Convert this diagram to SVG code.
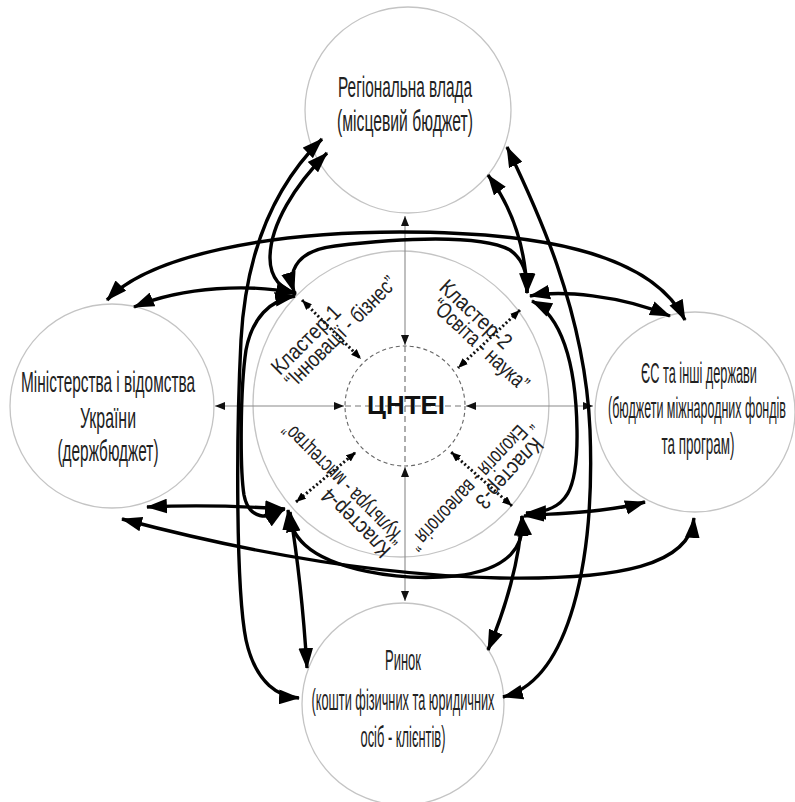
<svg xmlns="http://www.w3.org/2000/svg" width="795" height="802" viewBox="0 0 795 802">
<defs>
<style>
.circ{fill:#fff;stroke:#c4c4c4;stroke-width:1.3}
.lbl{font-family:"Liberation Sans","Noto Sans",Arial,sans-serif;font-size:30px;fill:#222;text-anchor:middle}
.cl{font-family:"Liberation Sans","Noto Sans",Arial,sans-serif;font-size:22px;fill:#222}
.con{fill:none;stroke:#000;stroke-width:3.4;marker-start:url(#ah);marker-end:url(#ah)}
.axis{fill:none;stroke:#8a8a8a;stroke-width:1.1;marker-start:url(#sa);marker-end:url(#sa)}
.dash{fill:none;stroke:#777;stroke-width:1.2;stroke-dasharray:6 4}
.dot{fill:none;stroke:#111;stroke-width:3;stroke-dasharray:2 2.4;marker-start:url(#da);marker-end:url(#da)}
</style>
<marker id="ah" viewBox="0 0 20 14" refX="19" refY="7" markerWidth="21" markerHeight="15" markerUnits="userSpaceOnUse" orient="auto-start-reverse"><path d="M0,0 L20,7 L0,14 z" fill="#000"/></marker>
<marker id="sa" viewBox="0 0 10 8" refX="10" refY="4" markerWidth="10" markerHeight="8" markerUnits="userSpaceOnUse" orient="auto-start-reverse"><path d="M0,0 L10,4 L0,8 z" fill="#111"/></marker>
<marker id="da" viewBox="0 0 10 8" refX="10" refY="4" markerWidth="10" markerHeight="8" markerUnits="userSpaceOnUse" orient="auto-start-reverse"><path d="M0,0 L10,4 L0,8 z" fill="#000"/></marker>
</defs>
<rect width="795" height="802" fill="#fff"/>

<g id="node-center">
<ellipse cx="401" cy="404" rx="148" ry="153" fill="none" stroke="#c4c4c4" stroke-width="1.3"/>
<circle cx="405" cy="406" r="60" fill="none" stroke="#666" stroke-width="1.1" stroke-dasharray="4 3"/>
<path class="dash" d="M405,346 L405,466 M345,406 L465,406"/>
<text x="406" y="414" font-family="'Liberation Sans',Arial,sans-serif" font-size="25" font-weight="bold" fill="#111" text-anchor="middle" textLength="78" lengthAdjust="spacingAndGlyphs">ЦНТЕІ</text>
</g>

<g id="axes">
<path class="axis" d="M405,216 L405,345"/>
<path class="axis" d="M405,601 L405,467"/>
<path class="axis" d="M215,406 L344,406"/>
<path class="axis" d="M593,406 L466,406"/>
</g>

<g id="node-top">
<circle class="circ" cx="408" cy="110" r="103"/>
<text class="lbl" x="405" y="97" textLength="134" lengthAdjust="spacingAndGlyphs">Регіональна влада</text>
<text class="lbl" x="405" y="131" textLength="136" lengthAdjust="spacingAndGlyphs">(місцевий бюджет)</text>
</g>

<g id="node-left">
<circle class="circ" cx="112" cy="406" r="102"/>
<text class="lbl" x="108" y="392" textLength="174" lengthAdjust="spacingAndGlyphs">Міністерства і відомства</text>
<text class="lbl" x="108" y="428" textLength="56" lengthAdjust="spacingAndGlyphs">України</text>
<text class="lbl" x="108" y="461" textLength="101" lengthAdjust="spacingAndGlyphs">(держбюджет)</text>
</g>

<g id="node-right">
<circle class="circ" cx="695" cy="412" r="100"/>
<text class="lbl" x="699" y="383" textLength="116" lengthAdjust="spacingAndGlyphs">ЄС та інші держави</text>
<text class="lbl" x="697" y="418" textLength="178" lengthAdjust="spacingAndGlyphs">(бюджети міжнародних фондів</text>
<text class="lbl" x="698" y="454" textLength="73" lengthAdjust="spacingAndGlyphs">та програм)</text>
</g>

<g id="node-bottom">
<circle class="circ" cx="403" cy="704" r="101"/>
<text class="lbl" x="403" y="670" textLength="36" lengthAdjust="spacingAndGlyphs">Ринок</text>
<text class="lbl" x="403" y="710" textLength="183" lengthAdjust="spacingAndGlyphs">(кошти фізичних та юридичних</text>
<text class="lbl" x="403" y="747" textLength="85" lengthAdjust="spacingAndGlyphs">осіб - клієнтів)</text>
</g>

<g id="cluster-1" transform="translate(280,376) rotate(-45)">
<text class="cl" x="0" y="0" textLength="88" lengthAdjust="spacingAndGlyphs">Кластер-1</text>
<text class="cl" x="0" y="19" textLength="148" lengthAdjust="spacingAndGlyphs">“Інновації - бізнес”</text>
</g>
<g id="cluster-2" transform="translate(438,289) rotate(43)">
<text class="cl" x="0" y="0" textLength="90" lengthAdjust="spacingAndGlyphs">Кластер-2</text>
<text class="cl" x="7" y="19" textLength="124" lengthAdjust="spacingAndGlyphs">“Освіта - наука”</text>
</g>
<g id="cluster-3" transform="translate(534,436) rotate(133)">
<text class="cl" x="0" y="0" textLength="88" lengthAdjust="spacingAndGlyphs">Кластер-3</text>
<text class="cl" x="-8" y="20" textLength="172" lengthAdjust="spacingAndGlyphs">“ Екологія - валеологія ”</text>
</g>
<g id="cluster-4" transform="translate(392,549) rotate(225)">
<text class="cl" x="0" y="0" textLength="88" lengthAdjust="spacingAndGlyphs">Кластер-4</text>
<text class="cl" x="0" y="19" textLength="162" lengthAdjust="spacingAndGlyphs">“Культура - мистецтво”</text>
</g>

<g id="connectors">
<path class="dot" d="M302,300 L361,359"/>
<path class="dot" d="M520,310 L458,368"/>
<path class="dot" d="M512,506 L451,452"/>
<path class="dot" d="M296,502 L356,452"/>

<path class="con" d="M322,139 C275,185 246,250 241,340 C236,440 236,590 246,640 C256,685 280,697 299,698"/>
<path class="con" d="M327,153 C295,185 270,225 270,258 C270,278 282,290 296,294"/>
<path class="con" d="M295,296 C270,300 252,318 246,350 C240,390 240,470 244,495 C249,520 268,520 284,509"/>
<path class="con" d="M296,293 C250,284 185,286 134,307"/>
<path class="con" d="M107,300 C150,255 270,232 400,232 C530,232 650,250 685,320"/>
<path class="con" d="M294,292 C287,268 300,250 335,246 C400,238 480,234 510,250 C524,260 528,277 527,293"/>
<path class="con" d="M488,175 Q525,225 527,293"/>
<path class="con" d="M507,147 C535,205 585,310 590,430 C595,560 570,680 503,697"/>
<path class="con" d="M532,301 C560,315 576,360 577,430 C578,490 568,512 526,513"/>
<path class="con" d="M530,296 C560,290 620,295 670,316"/>
<path class="con" d="M524,516 C560,513 610,512 645,502"/>
<path class="con" d="M522,516 C520,560 505,610 488,650"/>
<path class="con" d="M522,516 C526,545 510,570 455,576 C395,582 330,568 305,545 C294,535 289,522 288,510"/>
<path class="con" d="M122,519 C220,545 360,575 500,578 C620,580 690,565 694,518"/>
<path class="con" d="M285,509 C240,506 190,505 147,507"/>
<path class="con" d="M290,512 C298,560 304,620 307,668"/>
</g>
</svg>
